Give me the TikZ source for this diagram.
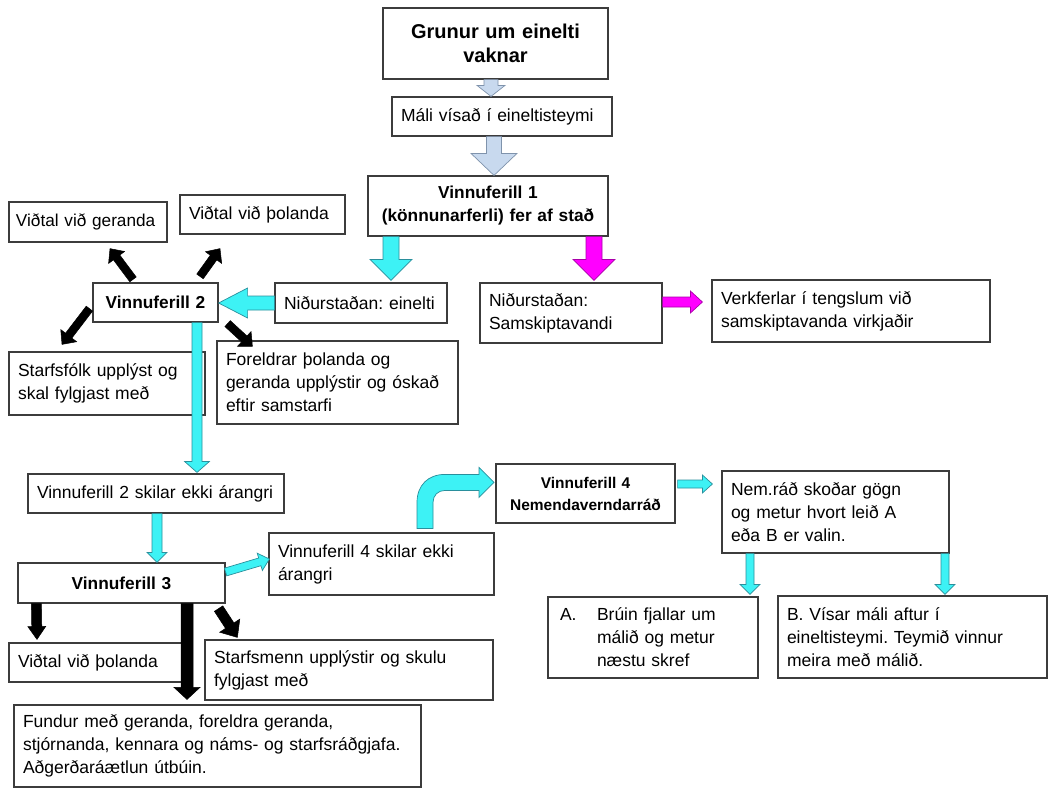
\documentclass[tikz,border=0pt]{standalone}
\usepackage{fontspec}
\setmainfont{Liberation Sans}
\usetikzlibrary{calc}
\frenchspacing
\definecolor{boxline}{HTML}{3C3C3C}
\definecolor{cyanfill}{HTML}{3DF2F5}
\definecolor{cyanline}{HTML}{2A8F9C}
\definecolor{magfill}{HTML}{FF00FF}
\definecolor{magline}{HTML}{A800A8}
\definecolor{lbfill}{HTML}{C8D9EE}
\definecolor{lbline}{HTML}{7F93AC}
\newcommand\blockarrow[6]{%
  \path[#1] let \p1=#2, \p2=#3, \n1={atan2(\y2-\y1,\x2-\x1)}, \n2={veclen(\x2-\x1,\y2-\y1)} in
  [shift={(\p1)}, rotate=\n1]
  (0pt,-#4pt) -- ({\n2-#6pt},-#4pt) -- ({\n2-#6pt},-#5pt) -- (\n2,0pt) -- ({\n2-#6pt},#5pt) -- ({\n2-#6pt},#4pt) -- (0pt,#4pt) -- cycle;
}
\tikzset{
  box/.style={draw=boxline, line width=1.2pt, fill=white, inner xsep=9pt, inner ysep=0pt,
    align=left, font=\fontsize{17.5}{23}\selectfont\frenchspacing, anchor=center},
  boldbox/.style={box, align=center, font=\fontsize{17.3}{23}\selectfont\bfseries},
  cyanarrow/.style={fill=cyanfill, draw=cyanline, line width=0.7pt, line join=miter},
  magarrow/.style={fill=magfill, draw=magline, line width=0.7pt},
  lbarrow/.style={fill=lbfill, draw=lbline, line width=0.7pt},
  blackarrow/.style={fill=black, draw=black, line width=0.5pt},
}
\begin{document}
\begin{tikzpicture}[x=1pt,y=-1pt]
\useasboundingbox (0,0) rectangle (1048,788);
\fill[white] (0,0) rectangle (1048,788);

% boxes
\node[boldbox, text width=207pt, minimum height=71pt, font=\fontsize{20}{24}\selectfont\bfseries] (grunur) at (495.5,43.5) {Grunur um einelti\\vaknar};
\node[box, text width=202pt, minimum height=39pt] (mali) at (502,116.5) {Máli vísað í eineltisteymi};
\node[boldbox, text width=222pt, minimum height=60pt] (v1) at (488,206) {Vinnuferill 1\\(könnunarferli) fer af stað};
\node[box, text width=144pt, minimum height=40pt, inner xsep=7pt, font=\fontsize{17.2}{23}\selectfont] (vg) at (88,222) {Viðtal við geranda};
\node[box, text width=147pt, minimum height=39pt] (vth) at (262.5,214.5) {Viðtal við þolanda};
\node[boldbox, text width=107pt, minimum height=39pt] (v2) at (155.5,302.5) {Vinnuferill 2};
\node[box, text width=154pt, minimum height=40pt] (nein) at (361,303) {Niðurstaðan: einelti};
\node[box, text width=164pt, minimum height=60pt] (nsam) at (571,313) {Niðurstaðan:\\Samskiptavandi};
\node[box, text width=260pt, minimum height=62pt] (verk) at (851,311) {Verkferlar í tengslum við\\samskiptavanda virkjaðir};
\node[box, text width=178pt, minimum height=63pt] (starfs) at (107,383.5) {Starfsfólk upplýst og\\skal fylgjast með};
\node[box, text width=223pt, minimum height=83pt] (foreldrar) at (337.5,382.5) {Foreldrar þolanda og\\geranda upplýstir og óskað\\eftir samstarfi};
\node[box, text width=238pt, minimum height=39pt] (v2s) at (156,493.5) {Vinnuferill 2 skilar ekki árangri};
\node[boldbox, text width=161pt, minimum height=59pt, font=\fontsize{15.5}{22}\selectfont\bfseries] (v4) at (585.5,493.5) {Vinnuferill 4\\Nemendaverndarráð};
\node[box, text width=209pt, minimum height=82pt] (nem) at (835.5,512) {Nem.ráð skoðar gögn\\og metur hvort leið A\\eða B er valin.};
\node[box, text width=207pt, minimum height=62pt] (v4s) at (381.5,564) {Vinnuferill 4 skilar ekki\\árangri};
\node[boldbox, text width=189pt, minimum height=40pt] (v3) at (121.5,583) {Vinnuferill 3};
\node[box, text width=186pt, minimum height=81pt, inner xsep=12pt] (A) at (653,637.5) {\makebox[37pt][l]{A.}Brúin fjallar um\\\hspace*{37pt}málið og metur\\\hspace*{37pt}næstu skref};
\node[box, text width=251pt, minimum height=82pt] (B) at (912.5,637) {B. Vísar máli aftur í\\eineltisteymi. Teymið vinnur\\meira með málið.};
\node[box, text width=155pt, minimum height=39pt] (vth2) at (95.5,662.5) {Viðtal við þolanda};
\node[box, text width=270pt, minimum height=60pt] (starfsm) at (349,670) {Starfsmenn upplýstir og skulu\\fylgjast með};
\node[box, text width=389pt, minimum height=82pt] (fundur) at (217.5,746) {Fundur með geranda, foreldra geranda,\\stjórnanda, kennara og náms- og starfsráðgjafa.\\Aðgerðaráætlun útbúin.};

% arrows
\blockarrow{lbarrow}{($(grunur.south)+(-4.5,0)$)}{($(mali.north)+(-11,0)$)}{7}{14}{11}
\blockarrow{lbarrow}{($(mali.south)+(-8,0)$)}{($(v1.north)+(6,0)$)}{7.5}{23}{22}
\blockarrow{cyanarrow}{($(v1.south)+(-97,0)$)}{($(nein.north)+(30,-2)$)}{8}{21}{21}
\blockarrow{magarrow}{($(v1.south)+(106,0)$)}{($(nsam.north)+(23,-2)$)}{8}{21}{21}
\blockarrow{magarrow}{($(nsam.east)+(0,-11)$)}{($(verk.west)+(-9,-9)$)}{5}{11}{12}
\blockarrow{cyanarrow}{(nein.west)}{($(v2.east)+(0,0.5)$)}{7}{15}{29}
\blockarrow{blackarrow}{($(v2.north)+(-22.5,-3)$)}{($(vg.south)+(22,6)$)}{4}{10}{11}
\blockarrow{blackarrow}{($(v2.north)+(44.5,-6)$)}{($(vth.south)+(-42.5,14)$)}{4}{10}{11}
\blockarrow{blackarrow}{($(v2.south west)+(-3,-14)$)}{($(starfs.north)+(-45,-7)$)}{4}{10}{11}
\blockarrow{blackarrow}{($(v2.south east)+(9,1)$)}{($(foreldrar.north west)+(36,6)$)}{4}{10}{11}
\blockarrow{cyanarrow}{($(v2.south)+(41.5,0)$)}{($(v2s.north)+(41,-1)$)}{5}{12.5}{11}
\blockarrow{cyanarrow}{($(v2s.south)+(1,0)$)}{($(v3.north)+(35.5,0)$)}{5}{10}{10}
\blockarrow{cyanarrow}{($(v3.east)+(0,-11)$)}{($(v4s.west)+(1,-5)$)}{4}{9}{10}
\begin{scope}[shift={(v4s.north)}]
\path[cyanarrow] (35.5,-4) -- (35.5,-30) .. controls (35.5,-47) and (46.5,-58) .. (63.5,-58)
  -- (97.5,-58) -- (97.5,-65) -- (112.5,-50) -- (97.5,-35) -- (97.5,-42) -- (63.5,-42)
  .. controls (56.5,-42) and (51.5,-37) .. (51.5,-30) -- (51.5,-4) -- cycle;
\end{scope}
\blockarrow{cyanarrow}{($(v4.east)+(2,-9.5)$)}{($(nem.west)+(-9,-28)$)}{4}{9}{10}
\blockarrow{cyanarrow}{($(nem.south)+(-85.5,0)$)}{($(A.north)+(97,-2)$)}{4}{10}{10}
\blockarrow{cyanarrow}{($(nem.south)+(109.5,0)$)}{($(B.north)+(32.5,-1)$)}{4}{10}{10}
\blockarrow{blackarrow}{($(v3.south west)+(19,0)$)}{($(vth2.north)+(-58.5,-3)$)}{5}{9}{13}
\blockarrow{blackarrow}{($(v3.south)+(65.5,0)$)}{($(fundur.north)+(-30.5,-5)$)}{6}{13}{12}
\blockarrow{blackarrow}{($(v3.south east)+(-7,5)$)}{($(starfsm.north west)+(33,-2)$)}{5}{12}{14}
\end{tikzpicture}
\end{document}
